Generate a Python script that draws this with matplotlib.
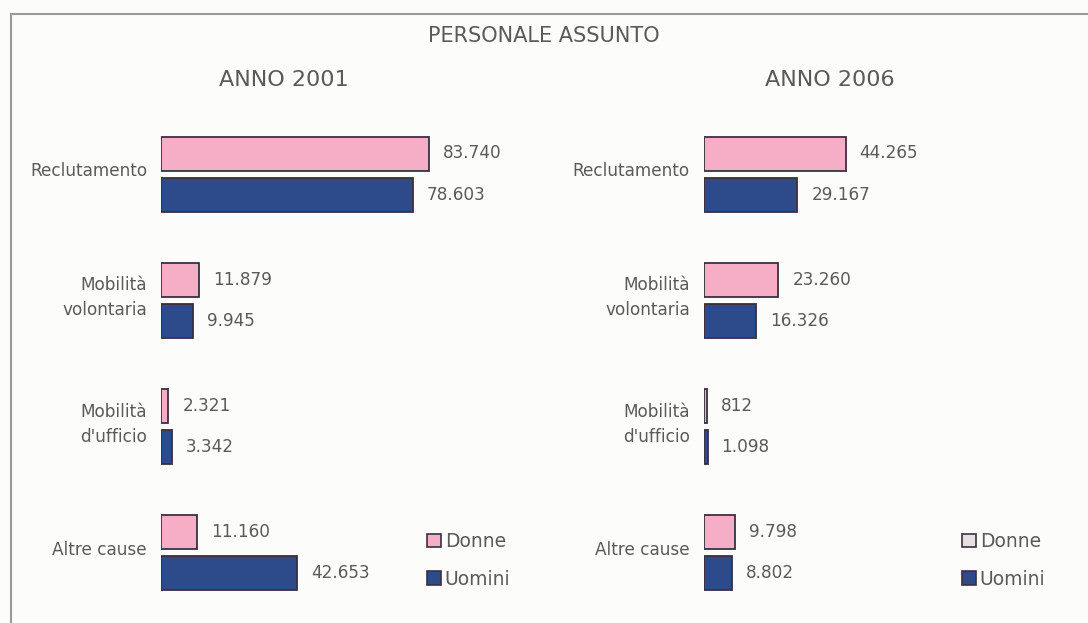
import matplotlib
matplotlib.use("Agg")
import matplotlib.pyplot as plt
from matplotlib.patches import Patch
from matplotlib.lines import Line2D

categories = ["Reclutamento", "Mobilità\nvolontaria", "Mobilità\nd'ufficio", "Altre cause"]
donne_2001 = [83740, 11879, 2321, 11160]
uomini_2001 = [78603, 9945, 3342, 42653]
donne_2006 = [44265, 23260, 812, 9798]
uomini_2006 = [29167, 16326, 1098, 8802]
labels_donne_2001 = ["83.740", "11.879", "2.321", "11.160"]
labels_uomini_2001 = ["78.603", "9.945", "3.342", "42.653"]
labels_donne_2006 = ["44.265", "23.260", "812", "9.798"]
labels_uomini_2006 = ["29.167", "16.326", "1.098", "8.802"]
series_names = ["Donne", "Uomini"]

plt.rcParams['font.family'] = ['DejaVu Sans']
TXT = "#5a5a5a"
PINK = "#f5aec5"
BLUE = "#2d4a8a"
EDGE = "#3a3040"
BG = "#fcfdfa"
FS = 12.2

W, H = 1088, 623
fig = plt.figure(figsize=(W / 100, H / 100), dpi=100, facecolor=BG)

def px_axes(left, top, width, height):
    return fig.add_axes([left / W, 1 - (top + height) / H, width / W, height / H])

scale = 0.0032  # px per unit
ax_top, ax_h = 100, 510
gap = 126.3
y0_px = 174
ylim = ((ax_top + ax_h - y0_px) / gap, (ax_top - y0_px) / gap)
off = 41 / gap / 2
bh = 34 / gap

def panel(left, d, u, ld, lu, legend_x, donne_leg_fill):
    width = 380
    ax = px_axes(left, ax_top, width, ax_h)
    ax.set_xlim(0, width / scale)
    ax.set_ylim(*ylim)
    ax.set_facecolor("none")
    for s in ax.spines.values():
        s.set_visible(False)
    ax.set_xticks([])
    ys = list(range(len(categories)))
    for y, c in zip(ys, categories):
        ax.text(-14 / scale, y - 0.02, c, ha="right", va="center", fontsize=FS,
                color=TXT, linespacing=1.5, multialignment="right")
    ax.set_yticks([])
    ax.barh([y - off for y in ys], d, height=bh, color=PINK, edgecolor=EDGE, linewidth=1.3)
    ax.barh([y + off for y in ys], u, height=bh, color=BLUE, edgecolor=EDGE, linewidth=1.3)
    dx = 14 / scale
    for y, v, t in zip(ys, d, ld):
        ax.text(v + dx, y - off, t, va="center", ha="left", fontsize=FS, color=TXT)
    for y, v, t in zip(ys, u, lu):
        ax.text(v + dx, y + off, t, va="center", ha="left", fontsize=FS, color=TXT)
    handles = [Patch(facecolor=donne_leg_fill, edgecolor=EDGE, linewidth=1.2),
               Patch(facecolor=BLUE, edgecolor=EDGE, linewidth=1.2)]
    fig.legend(handles, series_names, loc="upper left",
               bbox_to_anchor=(legend_x / W, 1 - 532 / H), frameon=False,
               fontsize=13.5, labelcolor=TXT, handlelength=0.75, handleheight=0.75,
               handletextpad=0.2, labelspacing=1.0, borderpad=0, borderaxespad=0)
    return ax

panel(161, donne_2001, uomini_2001, labels_donne_2001, labels_uomini_2001, 427, PINK)
panel(704, donne_2006, uomini_2006, labels_donne_2006, labels_uomini_2006, 962, "#e6dfe2")

fig.text(544 / W, 1 - 36 / H, "PERSONALE ASSUNTO", ha="center", va="center", fontsize=15, color=TXT)
fig.text(284 / W, 1 - 80 / H, "ANNO 2001", ha="center", va="center", fontsize=16, color=TXT)
fig.text(830 / W, 1 - 80 / H, "ANNO 2006", ha="center", va="center", fontsize=16, color=TXT)

# frame lines
fig.add_artist(Line2D([11 / W, 1], [1 - 14 / H, 1 - 14 / H], color="#9a9a9a", lw=1.5, transform=fig.transFigure))
fig.add_artist(Line2D([11 / W, 11 / W], [1 - 14 / H, 0], color="#9a9a9a", lw=1.5, transform=fig.transFigure))

fig.savefig("out.png", dpi=100, facecolor=BG)
